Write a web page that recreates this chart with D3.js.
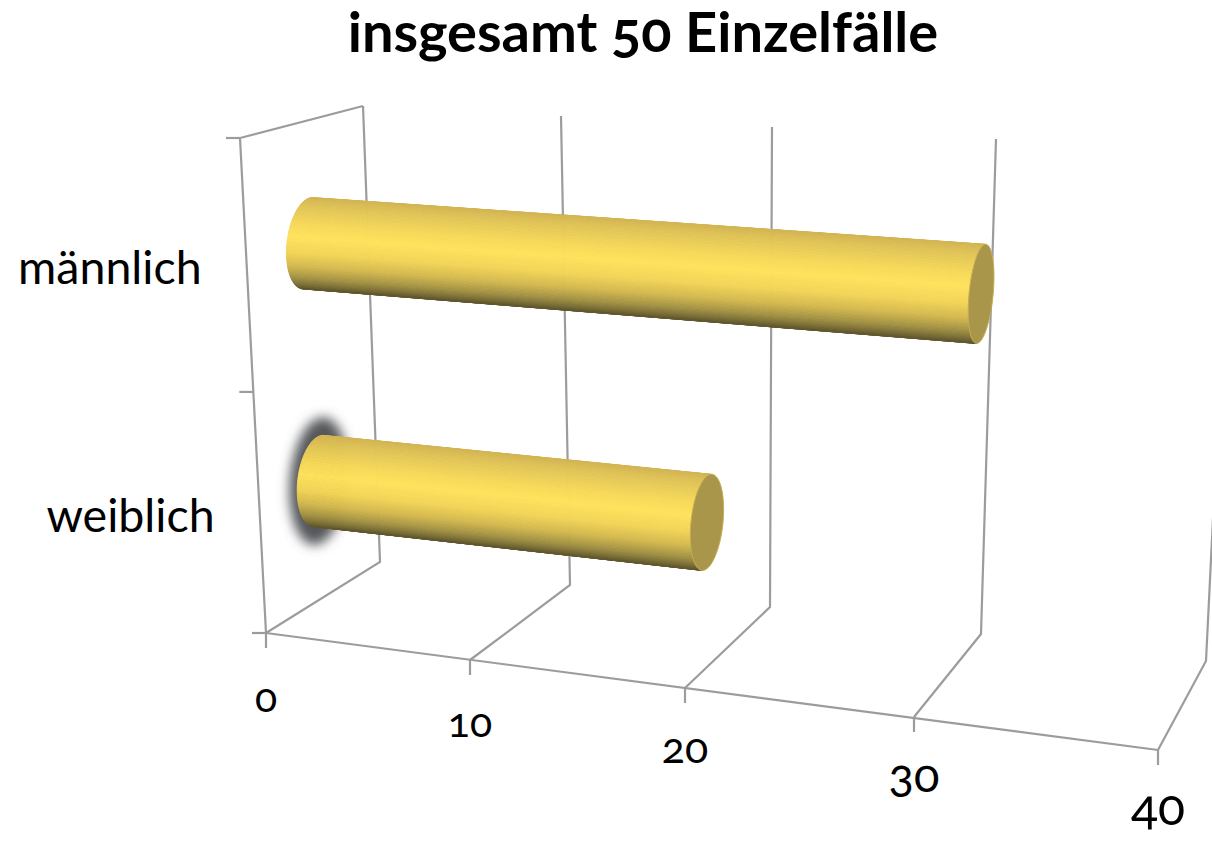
<!DOCTYPE html>
<html>
<head>
<meta charset="utf-8">
<script src="https://cdnjs.cloudflare.com/ajax/libs/d3/7.8.5/d3.min.js"></script>
<style>
html, body { margin: 0; background: #fff; }
svg { display: block; }
text { font-family: Lato, "Open Sans", sans-serif; fill: #000; font-feature-settings: "onum" 1; font-variant-numeric: oldstyle-nums; }
</style>
</head>
<body>
<svg width="1212" height="842"></svg>
<script>
const categories = ["männlich", "weiblich"];
const values = [31, 19];
const xTicks = [0, 10, 20, 30, 40];
const title = "insgesamt 50 Einzelfälle";
const shadowed = ["weiblich"];

const svg = d3.select("svg");

// the 3d box: one piecewise scale per edge, because of the perspective
const frontX = d3.scaleLinear().domain(xTicks).range([266, 470, 685, 914, 1158]);
const frontY = d3.scaleLinear().domain(xTicks).range([633, 660, 688, 717, 750]);
const backX = d3.scaleLinear().domain(xTicks).range([380, 570, 770, 981, 1206]);
const backY = d3.scaleLinear().domain(xTicks).range([562, 585, 607, 634, 661]);
const topX = d3.scaleLinear().domain(xTicks).range([363, 561, 772, 996, 1231]);
const topY = d3.scaleLinear().domain(xTicks).range([106, 116, 127, 139, 152]);
const frontTopX = d3.scaleLinear().domain(xTicks).range([240, 452, 679, 921, 1181]);
const frontTopY = d3.scaleLinear().domain(xTicks).range([138, 145, 165, 183, 195]);

const heightScale = d3.scaleBand().domain(categories.slice().reverse()).range([0, 1]);
const labelSize = d3.scaleLinear().domain(xTicks).range([41, 41, 43, 47, 50]);

// v = value, d = depth 0..1, h = height 0..1
function project(v, d, h) {
    const fx = frontX(v) + (backX(v) - frontX(v)) * d;
    const fy = frontY(v) + (backY(v) - frontY(v)) * d;
    const tx = frontTopX(v) + (topX(v) - frontTopX(v)) * d;
    const ty = frontTopY(v) + (topY(v) - frontTopY(v)) * d;
    return [fx + (tx - fx) * h, fy + (ty - fy) * h];
}

function rim(v, h) {
    const c = project(v, 0.5, h);
    const floor = project(v, 0.5, 0);
    const roof = project(v, 0.5, 1);
    const ux = 4.5; // the discs lean right, whatever the wall does
    const uy = (roof[1] - floor[1]) * 0.096;
    const rs = (backX(v) - frontX(v)) * 0.185;
    return t => [c[0] + 1 + ux * Math.sin(t) + rs * Math.cos(t), c[1] + uy * Math.sin(t)];
}

const line = d3.line();
const grid = svg.append("g").attr("fill", "none").attr("stroke", "#9c9c9c").attr("stroke-width", 2.2);

const gridLines = xTicks.map(v => [
    [frontX(v), frontY(v)],
    [backX(v), backY(v)],
    [topX(v), topY(v)]
]);
grid.selectAll("path.wall").data(gridLines).join("path").attr("class", "wall").attr("d", line);

grid.append("path").attr("d", line([[frontX(0), frontY(0)], [frontX(40), frontY(40)]]));
grid.append("path").attr("d", line([
    [frontX(0), frontY(0)],
    [frontTopX(0), frontTopY(0)],
    [topX(0), topY(0)]
]));

// tick marks
grid.selectAll("path.xtick").data(xTicks).join("path").attr("class", "xtick")
    .attr("d", v => line([[frontX(v), frontY(v)], [frontX(v), frontY(v) + 15]]));
grid.selectAll("path.ytick").data([0, 0.487, 1]).join("path").attr("class", "ytick")
    .attr("d", h => {
        const p = project(0, 0, h);
        return line([[p[0] - 14, p[1]], p]);
    });

svg.append("g").selectAll("text").data(xTicks).join("text")
    .attr("x", v => frontX(v))
    .attr("y", v => frontY(v) + 79 - v * 0.2 + (v > 20 ? (v - 20) * 0.2 : 0))
    .attr("text-anchor", "middle")
    .attr("font-size", v => labelSize(v))
    .text(v => v);

// shadow behind the weiblich bar
const defs = svg.append("defs");
defs.append("filter").attr("id", "blur")
    .attr("x", "-50%").attr("y", "-50%").attr("width", "200%").attr("height", "200%")
    .append("feGaussianBlur").attr("stdDeviation", 6);

const bars = categories.map((c, i) => ({
    name: c,
    value: values[i],
    h: heightScale(c) + heightScale.bandwidth() / 2 - 0.005
}));

const shade = d3.scaleLinear()
    .domain([0, 0.1, 0.3, 0.43, 0.6, 0.75, 0.88, 1])
    .range(["#d2b554", "#e0c457", "#f7d959", "#ffe25c", "#f2d458", "#d3b84f", "#a09043", "#62582f"]);

svg.append("g").selectAll("ellipse").data(bars.filter(b => shadowed.includes(b.name))).join("ellipse")
    .each(function(b) {
        const c = project(0, 0.5, b.h);
        d3.select(this).attr("cx", c[0] + 1).attr("cy", c[1])
            .attr("rx", 29).attr("ry", 64)
            .attr("transform", `rotate(5 ${c[0]} ${c[1]})`);
    })
    .attr("fill", "#54565a")
    .attr("filter", "url(#blur)");

const angles = d3.range(0, 81).map(i => Math.PI / 2 + (i / 80) * Math.PI);

const barGroups = svg.append("g").selectAll("g").data(bars).join("g");

barGroups.each(function(b) {
    const g = d3.select(this);
    const start = rim(0, b.h);
    const end = rim(b.value, b.h);
    // body as thin strips, shaded by position around the cylinder
    d3.pairs(angles).forEach(([a0, a1]) => {
        const s = (1 - Math.sin((a0 + a1) / 2)) / 2;
        g.append("path")
            .attr("d", line([start(a0), end(a0), end(a1), start(a1)]) + "Z")
            .attr("fill", shade(s))
            .attr("stroke", shade(s))
            .attr("stroke-width", 0.8);
    });
    // cut end
    const cap = d3.range(0, 121).map(i => end((i / 120) * 2 * Math.PI));
    g.append("path")
        .attr("d", line(cap) + "Z")
        .attr("fill", "#a9964b")
        .attr("stroke", "#c4ad50")
        .attr("stroke-width", 1);
});

svg.append("g").selectAll("text").data(bars).join("text")
    .attr("x", b => project(0, 0, b.h)[0] - 45)
    .attr("y", b => project(0, 0, b.h)[1] + 20)
    .attr("text-anchor", "end")
    .attr("font-size", 46.5)
    .text(b => b.name);

svg.append("text")
    .attr("x", 643)
    .attr("y", 52)
    .attr("text-anchor", "middle")
    .attr("font-size", 56)
    .attr("font-weight", 700)
    .text(title);
</script>
</body>
</html>
